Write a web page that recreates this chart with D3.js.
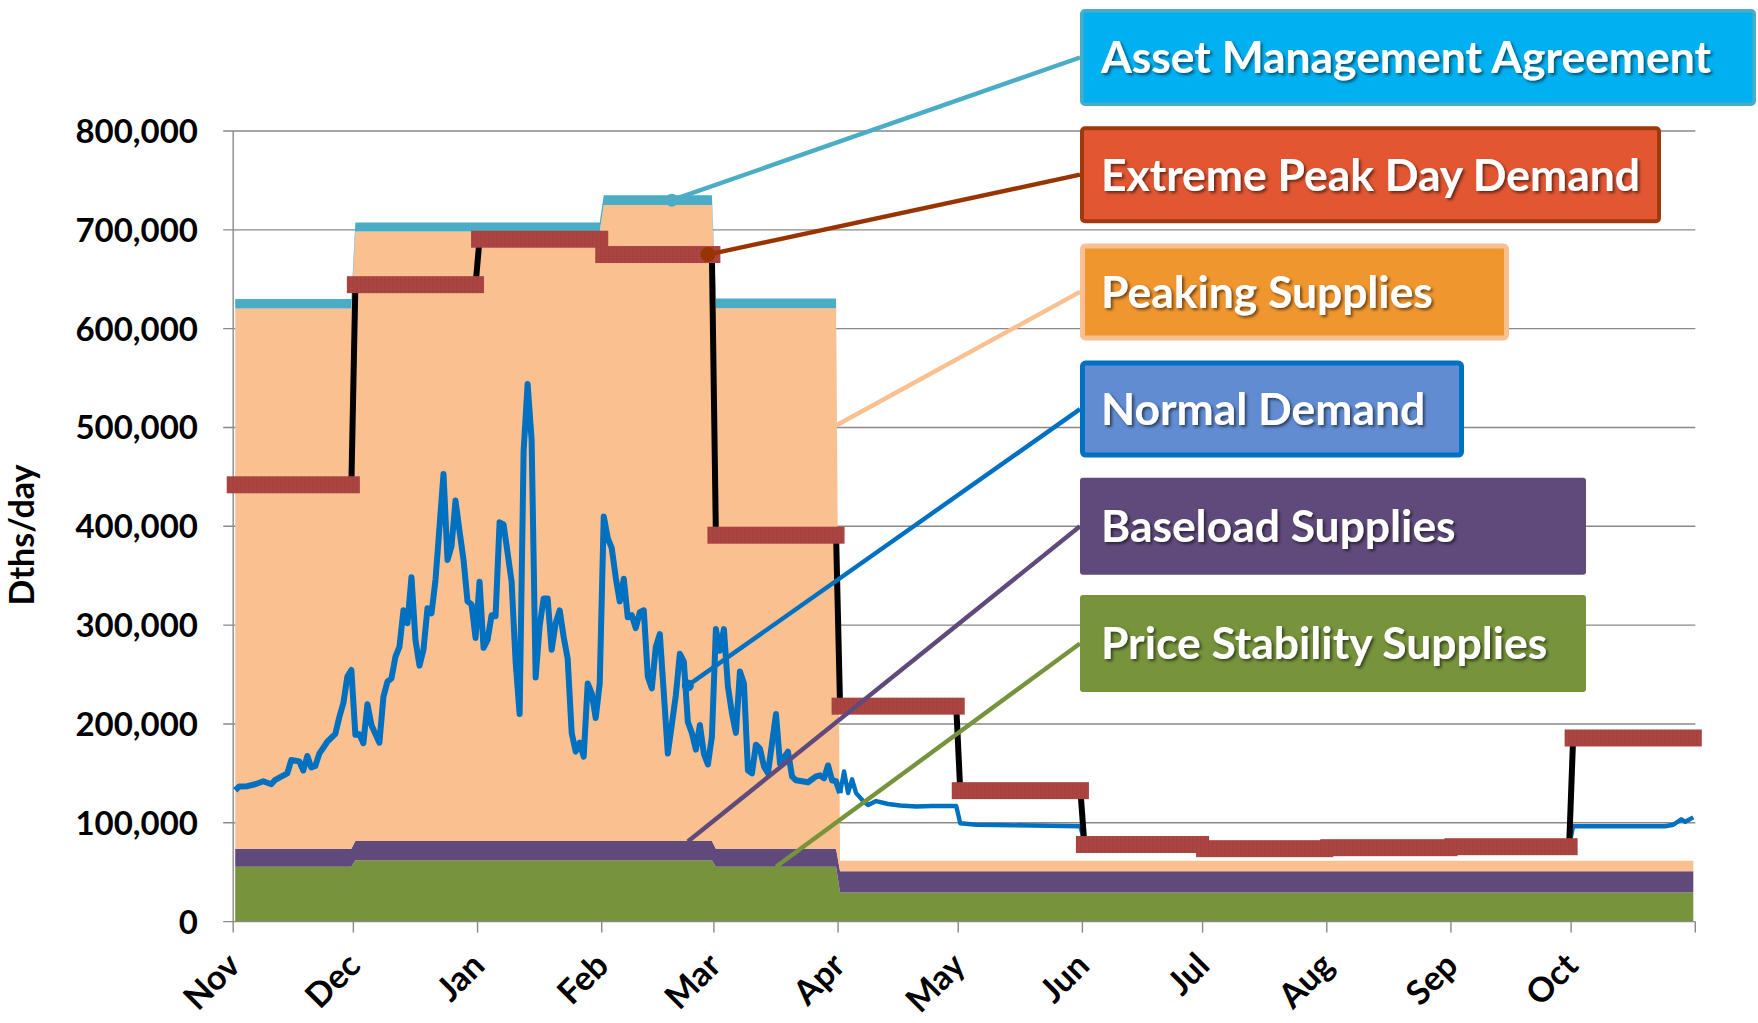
<!DOCTYPE html>
<html>
<head>
<meta charset="utf-8">
<script src="https://cdn.jsdelivr.net/npm/d3@7"></script>
<style>
  html, body { margin: 0; padding: 0; background: #fff; }
  svg { display: block; font-family: Lato, 'Open Sans', sans-serif; font-weight: bold; }
</style>
</head>
<body>
<svg id="chart" width="1758" height="1023"></svg>
<script>
// months shown on the axis (Nov .. Oct)
const months = ['Nov', 'Dec', 'Jan', 'Feb', 'Mar', 'Apr', 'May', 'Jun', 'Jul', 'Aug', 'Sep', 'Oct']

// stacked supply layers, one value per month, Dths/day
const priceStability = [55400, 62200, 62200, 62200, 55400, 29500, 29500, 29500, 29500, 29500, 29500, 29500]
const baseload = [18400, 19300, 19300, 19300, 18400, 21500, 21500, 21500, 21500, 21500, 21500, 21500]
const peaking = [546600, 616800, 616800, 643500, 546800, 10500, 10500, 10500, 10500, 10500, 10500, 10500]
const ama = [9500, 9100, 9100, 10000, 9800, 0, 0, 0, 0, 0, 0, 0]

// extreme peak day demand, one value per month
const extremePeak = [442000, 644500, 690500, 675000, 391000, 218000, 132500, 78000, 73800, 74800, 75800, 185800]

// normal demand: [days after Nov 1, Dths/day]
const normalDemand = [
  [0, 133000], [1, 136600], [3, 137000], [5, 139000], [7, 142000], [9, 139000], [10, 143500],
  [13, 150000], [14, 163500], [16, 162000], [17, 153000], [18, 167600], [19, 156000], [20, 157500],
  [21, 170000], [23, 182000], [25, 190000], [26, 207000], [27, 221000], [28, 248000], [29, 254600],
  [30, 189000], [31, 189600], [32, 180500], [33, 220000], [34, 199000], [36, 181000], [37, 227600],
  [38, 242800], [39, 246000], [40, 268000], [41, 278000], [42, 315000], [43, 302000], [44, 348500],
  [45, 285000], [46, 259000], [47, 275000], [48, 317000], [49, 312000], [50, 345600], [52, 453000],
  [53, 366000], [54, 380000], [55, 426000], [56, 395000], [57, 366000], [58, 324000], [59, 321000],
  [60, 287000], [61, 344000], [62, 277000], [63, 285000], [64, 310000], [65, 309000], [66, 404000],
  [67, 402000], [69, 344000], [70, 263000], [71, 210000], [72, 476000], [73, 544000], [74, 487000],
  [75, 247000], [76, 299000], [77, 327000], [78, 327000], [79, 275000], [80, 302000], [81, 315000],
  [82, 288000], [83, 266000], [84, 191000], [85, 172000], [86, 181000], [87, 167000], [88, 241000],
  [89, 231000], [90, 206000], [91, 241000], [92, 410000], [93, 388000], [94, 378000], [95, 348000],
  [96, 324000], [97, 347000], [98, 308000], [99, 310000], [100, 297000], [101, 313000], [102, 315000],
  [103, 248000], [104, 236000], [105, 278000], [106, 291000], [107, 231000], [108, 170000], [110, 229000],
  [111, 271000], [112, 263000], [113, 202000], [114, 191000], [115, 174000], [116, 199000], [117, 170000],
  [118, 159000], [119, 187000], [120, 296000], [121, 274000], [122, 296000], [123, 238000], [124, 211000],
  [125, 191000], [126, 253000], [127, 241000], [128, 153000], [129, 150000], [130, 179000], [131, 175000],
  [132, 157000], [133, 150000], [135, 210000], [136, 160000], [138, 172000], [139, 147000], [140, 143000],
  [143, 141000], [145, 147000], [146, 148000], [147, 145000], [148, 158000], [149, 143000], [150, 142000],
  [151, 130000], [152, 152000], [153, 130000], [154, 144000], [155, 130000], [157, 121000], [158, 118000],
  [160, 122000], [163, 119000], [166, 117500], [170, 116500], [174, 117000], [180, 117000], [181, 99500],
  [185, 98000], [211, 96500], [212, 80000], [241, 80000], [242, 75000], [303, 75000], [304, 77000],
  [333, 77000], [334, 96500], [357, 96500], [359, 98000], [361, 103500], [362, 101000], [364, 105500]
]

const yTicks = [0, 100000, 200000, 300000, 400000, 500000, 600000, 700000, 800000]

// callouts: label, and the point of the chart each one points at
const calloutLabels = ['Asset Management Agreement', 'Extreme Peak Day Demand', 'Peaking Supplies',
  'Normal Demand', 'Baseload Supplies', 'Price Stability Supplies']
const calloutDay = [109, 118, 150, 113, 113, 135]
const calloutValue = [730000, 675000, 502000, 239000, 81000, 55400]

// look of each callout box
const calloutStyles = [
  { fill: '#00B0F0', stroke: '#4BACC6', sw: 3.5, width: 676, line: '#4BACC6', dot: 6.5 },
  { fill: '#E25632', stroke: '#9E3A0E', sw: 4, width: 581, line: '#993300', dot: 7.5 },
  { fill: '#F0962F', stroke: '#FAC090', sw: 5, width: 429, line: '#FAC090', dot: 0 },
  { fill: '#618CD2', stroke: '#0070C0', sw: 5, width: 384, line: '#0070C0', dot: 6 },
  { fill: '#604A7B', stroke: 'none', sw: 0, width: 506, line: '#604A7B', dot: 0 },
  { fill: '#77933C', stroke: 'none', sw: 0, width: 506, line: '#77933C', dot: 0 }
]

const colors = { price: '#77933C', base: '#604A7B', peak: '#FAC090', ama: '#4BACC6', demand: '#0070C0', extreme: '#AA4542', grid: '#898989' }

const svg = d3.select('#chart')
const left = 233.2
const right = 1695.3
const startDate = new Date(Date.UTC(2012, 10, 1))
const endDate = new Date(Date.UTC(2013, 10, 1))

const x = d3.scaleUtc().domain([startDate, endDate]).range([left, right])
const y = d3.scaleLinear().domain([0, 800000]).range([921.6, 131])
const dayCenter = d => d3.utcHour.offset(d3.utcDay.offset(startDate, d), 12)

const monthStarts = d3.utcMonth.range(startDate, endDate)
const monthSpan = monthStarts.map(m => ({
  first: d3.utcDay.count(startDate, m),
  last: d3.utcDay.count(startDate, d3.utcMonth.offset(m, 1)) - 1
}))

const defs = svg.append('defs')
const pat = defs.append('pattern').attr('id', 'barTex')
  .attr('width', 4).attr('height', 10).attr('patternUnits', 'userSpaceOnUse')
pat.append('rect').attr('width', 4).attr('height', 10).attr('fill', colors.extreme)
pat.append('rect').attr('width', 1.5).attr('height', 10).attr('fill', '#A5423F')
const shadow = defs.append('filter').attr('id', 'txtShadow')
  .attr('x', '-5%').attr('y', '-20%').attr('width', '110%').attr('height', '150%')
shadow.append('feDropShadow').attr('dx', 2).attr('dy', 2).attr('stdDeviation', 1.5)
  .attr('flood-color', '#000').attr('flood-opacity', 0.55)

// gridlines + y tick marks
svg.append('g').selectAll('line').data(yTicks.slice(1)).join('line')
  .attr('x1', left - 10).attr('x2', right)
  .attr('y1', d => y(d)).attr('y2', d => y(d))
  .attr('stroke', colors.grid).attr('stroke-width', 1.4)

// stacked supply areas
const rows = []
monthSpan.forEach((s, i) => {
  [s.first, s.last].forEach(day => rows.push({
    day, priceStability: priceStability[i], baseload: baseload[i], peaking: peaking[i], ama: ama[i]
  }))
})
const stacked = d3.stack().keys(['priceStability', 'baseload', 'peaking', 'ama'])(rows)
const layerColor = [colors.price, colors.base, colors.peak, colors.ama]
const area = d3.area()
  .x(d => x(dayCenter(d.data.day)))
  .y0(d => y(d[0]))
  .y1(d => y(d[1]))
svg.append('g').selectAll('path').data(stacked).join('path')
  .attr('d', area)
  .attr('fill', (d, i) => layerColor[i])

// axes
svg.append('line').attr('x1', left).attr('x2', left).attr('y1', y(800000)).attr('y2', y(0))
  .attr('stroke', colors.grid).attr('stroke-width', 1.4)
svg.append('line').attr('x1', left - 10).attr('x2', right).attr('y1', y(0)).attr('y2', y(0))
  .attr('stroke', colors.grid).attr('stroke-width', 1.4)
const xTicks = d3.utcMonth.range(startDate, d3.utcDay.offset(endDate, 1))
svg.append('g').selectAll('line').data(xTicks).join('line')
  .attr('x1', d => x(d)).attr('x2', d => x(d))
  .attr('y1', y(0)).attr('y2', y(0) + 11)
  .attr('stroke', colors.grid).attr('stroke-width', 1.4)

svg.append('g').selectAll('text').data(yTicks).join('text')
  .attr('x', 198).attr('y', d => y(d) + 12)
  .attr('text-anchor', 'end').attr('font-size', 33)
  .text(d3.format(','))

svg.append('g').selectAll('text').data(monthStarts).join('text')
  .attr('text-anchor', 'end').attr('font-size', 34)
  .attr('transform', d => `translate(${x(d) + 9},${y(0) + 46}) rotate(-45)`)
  .text((d, i) => months[i])

svg.append('text')
  .attr('text-anchor', 'middle').attr('font-size', 34)
  .attr('transform', 'translate(34,535) rotate(-90)')
  .text('Dths/day')

// normal demand
const demandLine = d3.line().x(d => x(dayCenter(d[0]))).y(d => y(d[1]))
svg.append('path').datum(normalDemand.filter(d => d[0] <= 151))
  .attr('d', demandLine).attr('fill', 'none')
  .attr('stroke', colors.demand).attr('stroke-width', 6).attr('stroke-linejoin', 'round')
svg.append('path').datum(normalDemand.filter(d => d[0] >= 151))
  .attr('d', demandLine).attr('fill', 'none')
  .attr('stroke', colors.demand).attr('stroke-width', 4.4).attr('stroke-linejoin', 'round')

// extreme peak day demand: black connector + month bars
const extremePts = []
monthSpan.forEach((s, i) => {
  extremePts.push([s.first, extremePeak[i]], [s.last, extremePeak[i]])
})
svg.append('path').datum(extremePts)
  .attr('d', demandLine).attr('fill', 'none')
  .attr('stroke', '#000').attr('stroke-width', 6)

const barH = 17
svg.append('g').selectAll('rect').data(monthSpan).join('rect')
  .attr('x', d => x(dayCenter(d.first)) - barH / 2)
  .attr('width', d => x(dayCenter(d.last)) - x(dayCenter(d.first)) + barH)
  .attr('y', (d, i) => y(extremePeak[i]) - barH / 2)
  .attr('height', barH)
  .attr('fill', 'url(#barTex)')

// callouts
const boxX = 1080
const boxTop = 9
const boxStep = 117.2
const boxH = 97
const fontSize = 44.4

const callouts = svg.append('g')
calloutLabels.forEach((label, i) => {
  const st = calloutStyles[i]
  const by = boxTop + i * boxStep
  const px = x(dayCenter(calloutDay[i]))
  const py = y(calloutValue[i])
  callouts.append('line')
    .attr('x1', px).attr('y1', py).attr('x2', boxX).attr('y2', by + boxH / 2)
    .attr('stroke', st.line).attr('stroke-width', 4.4)
  if (st.dot > 0) {
    callouts.append('circle').attr('cx', px).attr('cy', py).attr('r', st.dot).attr('fill', st.line)
  }
})
calloutLabels.forEach((label, i) => {
  const st = calloutStyles[i]
  const by = boxTop + i * boxStep
  callouts.append('rect')
    .attr('x', boxX + st.sw / 2).attr('y', by + st.sw / 2)
    .attr('width', st.width - st.sw).attr('height', boxH - st.sw)
    .attr('rx', 3)
    .attr('fill', st.fill).attr('stroke', st.stroke).attr('stroke-width', st.sw)
  callouts.append('text')
    .attr('x', 1101).attr('y', by + boxH / 2 + fontSize * 0.36)
    .attr('font-size', fontSize).attr('fill', '#fff')
    .attr('filter', 'url(#txtShadow)')
    .text(label)
})
</script>
</body>
</html>
